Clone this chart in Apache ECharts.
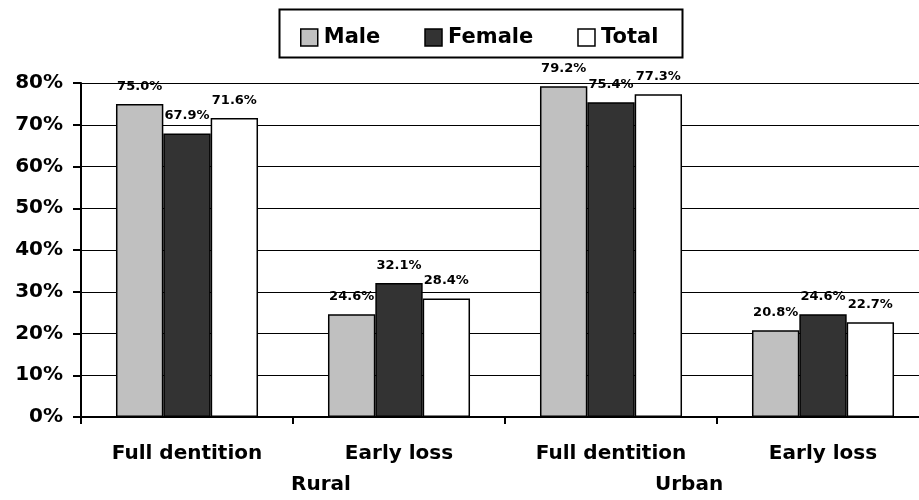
<!DOCTYPE html>
<html><head><meta charset="utf-8">
<script src="https://cdn.jsdelivr.net/npm/echarts@6/dist/echarts.min.js"></script>
<style>html,body{margin:0;padding:0;background:#fff;overflow:hidden}#c{width:929px;height:500px}</style>
</head><body><div id="c"></div>
<script>
const categories = ['Full dentition', 'Early loss', 'Full dentition', 'Early loss'];
const groups = ['Rural', 'Urban'];
const male = [75.0, 24.6, 79.2, 20.8];
const female = [67.9, 32.1, 75.4, 24.6];
const total = [71.6, 28.4, 77.3, 22.7];
const seriesNames = ['Male', 'Female', 'Total'];

const F = '"DejaVu Sans", Arial, sans-serif';
const chart = echarts.init(document.getElementById('c'));
const lbl = {show: true, position: 'top', distance: 11, color: '#000', fontFamily: F, fontWeight: 'bold', fontSize: 13,
  formatter: p => p.value.toFixed(1) + '%'};
function mk(name, data, color) {
  return {name, type: 'bar', data, barGap: '0%', barCategoryGap: '33%',
    itemStyle: {color, borderColor: '#000', borderWidth: 1.5}, label: lbl};
}
chart.setOption({
  animation: false,
  textStyle: {fontFamily: F},
  legend: {top: 27, left: 300, padding: 0, itemWidth: 17, itemHeight: 17, itemGap: 44,
    icon: 'rect', textStyle: {fontFamily: F, fontWeight: 'bold', fontSize: 21, color: '#000', padding: [0, 0, 0, 1]},
    itemStyle: {borderColor: '#000', borderWidth: 1.5}, data: seriesNames},
  graphic: [
    {type: 'rect', shape: {x: 279.5, y: 9.5, width: 403, height: 48}, style: {fill: 'none', stroke: '#000', lineWidth: 2}, z: -1},
    {type: 'text', left: 291, top: 475, style: {text: groups[0], font: 'bold 20px ' + F, fill: '#000'}},
    {type: 'text', left: 655, top: 475, style: {text: groups[1], font: 'bold 20px ' + F, fill: '#000'}}
  ],
  grid: {left: 81, right: 0, top: 83, bottom: 83, containLabel: false},
  xAxis: {type: 'category', data: categories,
    axisLine: {lineStyle: {color: '#000', width: 2}},
    axisTick: {show: true, length: 7, lineStyle: {color: '#000', width: 2}},
    axisLabel: {margin: 27, color: '#000', fontFamily: F, fontWeight: 'bold', fontSize: 20}},
  yAxis: {type: 'value', min: 0, max: 80, interval: 10,
    axisLine: {show: true, lineStyle: {color: '#000', width: 2}},
    axisTick: {show: true, length: 8, lineStyle: {color: '#000', width: 2}},
    splitLine: {show: true, lineStyle: {color: '#000', width: 1}},
    axisLabel: {margin: 18, color: '#000', fontFamily: F, fontWeight: 'bold', fontSize: 20, formatter: v => v + '%'}},
  series: [mk('Male', male, '#c0c0c0'), mk('Female', female, '#333333'), mk('Total', total, '#ffffff')]
});
</script></body></html>
